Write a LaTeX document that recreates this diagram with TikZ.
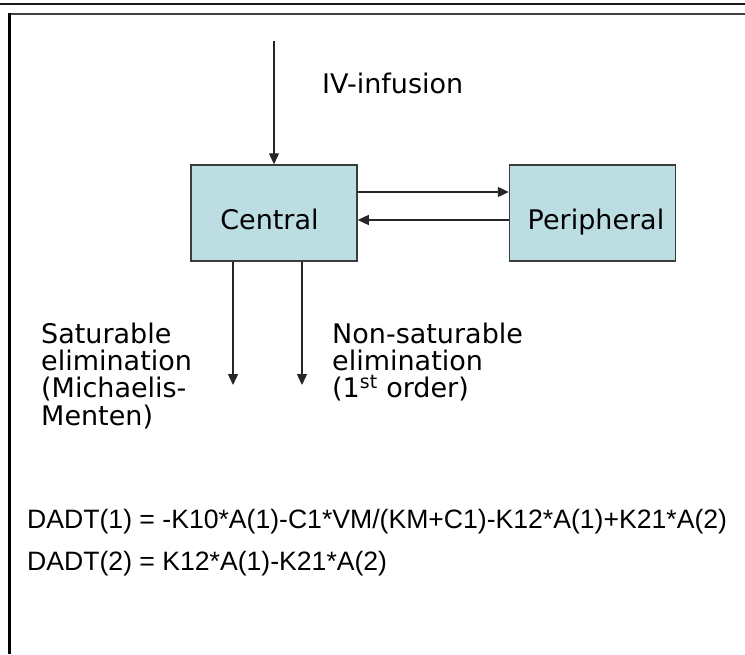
\documentclass[tikz,border=0pt]{standalone}
\usepackage{fontspec}
\setmainfont{DejaVu Sans}
\newfontfamily\eqfont{Liberation Sans}
\usetikzlibrary{arrows.meta}
\definecolor{boxfill}{RGB}{188,222,227}
\definecolor{boxline}{RGB}{60,60,60}
\begin{document}
\begin{tikzpicture}[x=1pt,y=-1pt,
  comp/.style={draw=boxline, line width=1.5pt, fill=boxfill, minimum width=166pt, minimum height=96pt, inner sep=0pt},
  lbl/.style={inner sep=0pt, font=\fontsize{27}{27.3}\selectfont},
  eq/.style={inner sep=0pt, anchor=base west, font=\eqfont\fontsize{26.6}{28}\selectfont},
  flow/.style={line width=1.3pt, draw=black!85, -{Triangle[length=11pt,width=10pt]}},
]
\useasboundingbox (0,0) rectangle (745,654);
\fill[white] (0,0) rectangle (745,654);
\draw[line width=2pt, black!90] (0,3.5) -- (745,3.5);
\draw[line width=2pt, black!75] (9,14) -- (745,14);
\draw[line width=3pt, black] (9,13) -- (9,654);

\node[comp] (C) at (274,213) {};
\node[comp] (P) at (592.5,213) {};

\coordinate (ivs) at (274,41);
\draw[flow] (ivs) -- (C.north);
\draw[flow] ([yshift=21pt]C.east) -- ([yshift=21pt]P.west);
\draw[flow] ([yshift=-7pt]P.west) -- ([yshift=-7pt]C.east);
\coordinate (e1) at (233,385);
\coordinate (e2) at (302,385);
\draw[flow] (C.south -| e1) -- (e1);
\draw[flow] (C.south -| e2) -- (e2);

\node[lbl, anchor=base west] (ivl) at (322,93) {IV-infusion};
\node[lbl, anchor=base] (cl) at (269.5,229) {Central};
\node[lbl, anchor=base] (pl) at (596,229) {Peripheral};
\node[lbl, anchor=base west, align=left] (sat) at (41,425) {Saturable\\elimination\\(Michaelis-\\Menten)};
\node[lbl, anchor=base west, align=left] (nsat) at (332,397.6) {Non-saturable\\elimination\\(1\smash{\textsuperscript{st}} order)};
\node[eq] (eq1) at (27,528) {DADT(1) = -K10*A(1)-C1*VM/(KM+C1)-K12*A(1)+K21*A(2)};
\node[eq] (eq2) at (27,570) {DADT(2) = K12*A(1)-K21*A(2)};
\end{tikzpicture}
\end{document}
